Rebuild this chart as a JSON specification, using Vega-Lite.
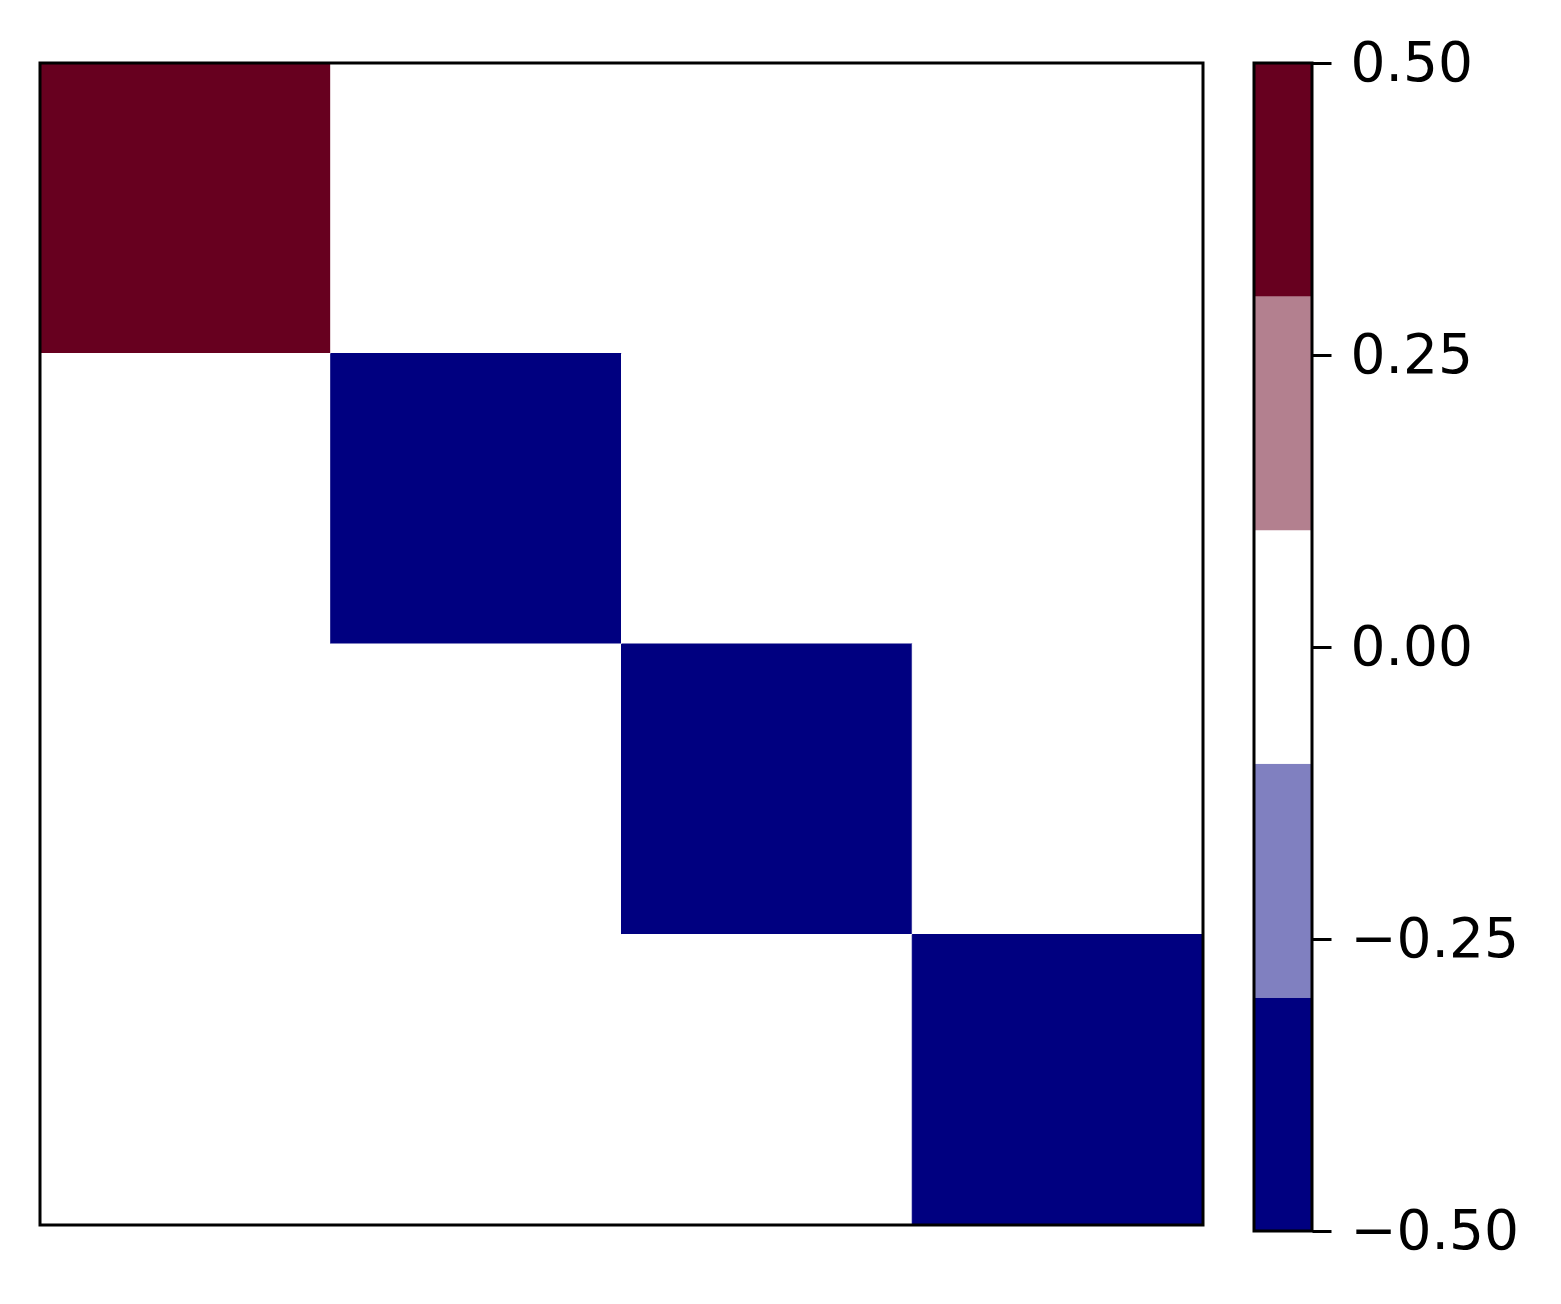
{
  "$schema": "https://vega.github.io/schema/vega-lite/v6.json",
  "background": "white",
  "padding": {"left": 38, "top": 36, "right": 5, "bottom": 5},
  "spacing": 47,
  "config": {
    "view": {"stroke": null},
    "font": "DejaVu Sans"
  },
  "hconcat": [
    {
      "width": 1163,
      "height": 1162,
      "layer": [
        {
          "data": {"values": [
            {"row": 0, "col": 0, "value": 0.5},
            {"row": 0, "col": 1, "value": 0},
            {"row": 0, "col": 2, "value": 0},
            {"row": 0, "col": 3, "value": 0},
            {"row": 1, "col": 0, "value": 0},
            {"row": 1, "col": 1, "value": -0.5},
            {"row": 1, "col": 2, "value": 0},
            {"row": 1, "col": 3, "value": 0},
            {"row": 2, "col": 0, "value": 0},
            {"row": 2, "col": 1, "value": 0},
            {"row": 2, "col": 2, "value": -0.5},
            {"row": 2, "col": 3, "value": 0},
            {"row": 3, "col": 0, "value": 0},
            {"row": 3, "col": 1, "value": 0},
            {"row": 3, "col": 2, "value": 0},
            {"row": 3, "col": 3, "value": -0.5}
          ]},
          "mark": {"type": "rect", "strokeWidth": 1},
          "encoding": {
            "x": {"field": "col", "type": "ordinal", "axis": null, "scale": {"padding": 0}},
            "y": {"field": "row", "type": "ordinal", "axis": null, "scale": {"padding": 0}},
            "color": {
              "field": "value",
              "type": "quantitative",
              "scale": {"type": "threshold", "domain": [-0.3, -0.1, 0.1, 0.3], "range": ["#000080", "#8080c0", "#ffffff", "#b3808f", "#67001f"]},
              "legend": null
            },
            "stroke": {
              "field": "value",
              "type": "quantitative",
              "scale": {"type": "threshold", "domain": [-0.3, -0.1, 0.1, 0.3], "range": ["#000080", "#8080c0", "#ffffff", "#b3808f", "#67001f"]},
              "legend": null
            }
          }
        },
        {
          "data": {"values": [{"frame": "plot"}]},
          "mark": {"type": "rect", "fill": null, "fillOpacity": 0, "stroke": "black", "strokeWidth": 3},
          "encoding": {}
        }
      ]
    },
    {
      "width": 58,
      "height": 1168,
      "layer": [
        {
          "data": {"values": [
            {"lo": -0.5, "hi": -0.3, "color": "#000080"},
            {"lo": -0.3, "hi": -0.1, "color": "#8080c0"},
            {"lo": -0.1, "hi": 0.1, "color": "#ffffff"},
            {"lo": 0.1, "hi": 0.3, "color": "#b3808f"},
            {"lo": 0.3, "hi": 0.5, "color": "#67001f"}
          ]},
          "mark": {"type": "rect", "strokeWidth": 0},
          "encoding": {
            "y": {
              "field": "lo",
              "type": "quantitative",
              "scale": {"domain": [-0.5, 0.5], "nice": false, "zero": false},
              "axis": {
                "orient": "right",
                "title": null,
                "values": [-0.5, -0.25, 0, 0.25, 0.5],
                "format": ".2f",
                "domain": false,
                "grid": false,
                "ticks": true,
                "tickSize": 19,
                "tickWidth": 3,
                "tickColor": "black",
                "labelFontSize": 55,
                "labelFont": "DejaVu Sans",
                "labelColor": "black",
                "labelPadding": 19,
                "labelFlush": false,
                "labelOverlap": false,
                "labelBaseline": "middle"
              }
            },
            "y2": {"field": "hi"},
            "color": {"field": "color", "type": "nominal", "scale": null, "legend": null}
          }
        },
        {
          "data": {"values": [{"frame": "colorbar"}]},
          "mark": {"type": "rect", "fill": null, "fillOpacity": 0, "stroke": "black", "strokeWidth": 3},
          "encoding": {}
        }
      ]
    }
  ]
}
